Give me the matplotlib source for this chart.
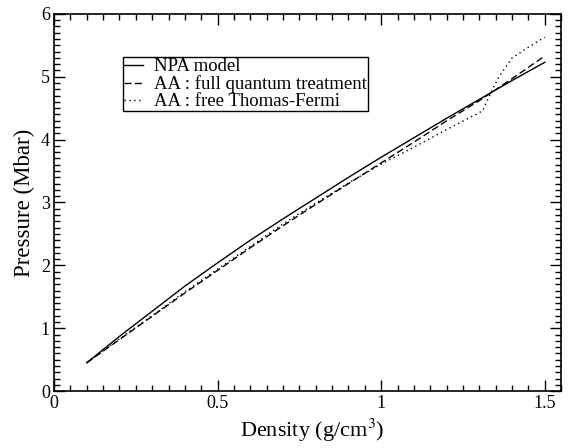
import matplotlib
matplotlib.use("Agg")
import matplotlib.pyplot as plt
from matplotlib.ticker import MultipleLocator

plt.rcParams['font.family'] = ['Liberation Serif', 'DejaVu Serif']
plt.rcParams['mathtext.fontset'] = 'stix'

# density (g/cm^3) and pressure (Mbar)
rho = [0.1, 0.2, 0.3, 0.4, 0.5, 0.6, 0.7, 0.8, 0.9, 1.0, 1.1, 1.2, 1.3, 1.4, 1.5]
p_npa = [0.45, 0.87, 1.27, 1.67, 2.04, 2.40, 2.74, 3.07, 3.40, 3.72, 4.03, 4.34, 4.64, 4.94, 5.23]
p_aa_qm = [0.45, 0.82, 1.19, 1.56, 1.92, 2.28, 2.63, 2.97, 3.30, 3.63, 3.96, 4.30, 4.62, 4.97, 5.33]

rho_tf = [0.1, 0.2, 0.3, 0.4, 0.5, 0.6, 0.7, 0.8, 0.9, 1.0, 1.1, 1.2, 1.3, 1.31,
          1.34, 1.36, 1.40, 1.45, 1.5]
p_aa_tf = [0.45, 0.83, 1.20, 1.58, 1.94, 2.30, 2.66, 2.99, 3.31, 3.61, 3.88, 4.16, 4.43, 4.46,
           4.80, 5.00, 5.30, 5.47, 5.63]

fig = plt.figure(figsize=(5.72, 4.48), dpi=100)
ax = fig.add_axes([0.0944, 0.127, 0.8866, 0.842])

ax.plot(rho, p_npa, color='black', lw=1.0, ls='-', label='NPA model')
ax.plot(rho, p_aa_qm, color='black', lw=1.0, ls=(0, (5, 2.5)), label='AA : full quantum treatment')
ax.plot(rho_tf, p_aa_tf, color='black', lw=1.0, ls=(0, (1, 2.5)), label='AA : free Thomas-Fermi')

ax.set_xlim(0, 1.55)
ax.set_ylim(0, 6)
ax.xaxis.set_major_locator(MultipleLocator(0.5))
ax.xaxis.set_minor_locator(MultipleLocator(0.05))
ax.yaxis.set_major_locator(MultipleLocator(1))
ax.yaxis.set_minor_locator(MultipleLocator(0.1))
ax.set_xticks([0, 0.5, 1, 1.5])
ax.set_xticklabels(['0', '0.5', '1', '1.5'])
ax.tick_params(which='both', direction='in', top=True, right=True, labelsize=13, width=1)
ax.tick_params(which='major', length=8, pad=3)
ax.tick_params(which='minor', length=4)
for s in ax.spines.values():
    s.set_linewidth(1.2)

ax.set_xlabel('Density (g/cm$^{3}$)', fontsize=16)
ax.xaxis.set_label_coords(0.51, -0.068)
ax.set_ylabel('Pressure (Mbar)', fontsize=16.5, labelpad=4)

leg = ax.legend(loc='upper left', bbox_to_anchor=(0.137, 0.885), fontsize=13.5,
                frameon=True, fancybox=False, edgecolor='black', framealpha=1,
                handlelength=1.0, handletextpad=0.6, borderpad=0.05, labelspacing=0.0,
                borderaxespad=0)
leg.get_frame().set_linewidth(1.0)

fig.savefig('out.png', dpi=100)
